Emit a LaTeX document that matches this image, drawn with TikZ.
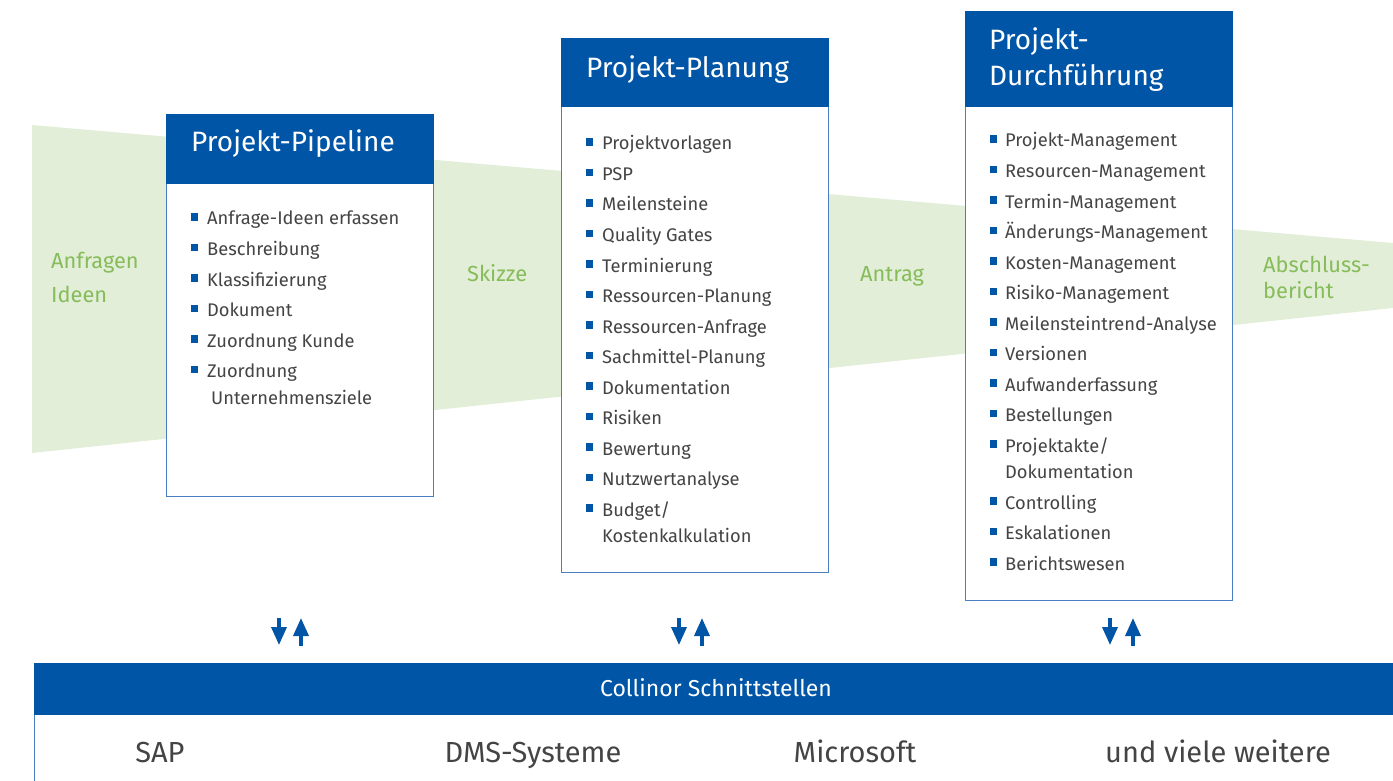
\documentclass[tikz,border=0pt]{standalone}
\usepackage{fontspec}
\setmainfont{Fira Sans}
\usetikzlibrary{arrows.meta}
\definecolor{hblue}{HTML}{0055A6}
\definecolor{lblue}{HTML}{4A7EC2}
\definecolor{band}{HTML}{E2EED8}
\definecolor{gtext}{HTML}{86BC5A}
\definecolor{itext}{HTML}{444444}
\tikzset{
  header/.style={fill=hblue, draw=hblue, inner sep=0pt},
  body/.style={draw=lblue, line width=0.9pt, fill=white, inner sep=0pt},
  htext/.style={anchor=base west, text=white, font=\fontsize{28}{36}\selectfont, inner sep=0pt, align=left},
  item/.style={anchor=base west, text=itext, font=\fontsize{18.3}{27}\selectfont, inner sep=0pt, align=left},
  bul/.style={fill=hblue, minimum size=7.5pt, inner sep=0pt},
  glabel/.style={anchor=base west, text=gtext, font=\fontsize{21.8}{33}\selectfont, inner sep=0pt, align=left},
  flow/.style={draw=hblue, line width=3.5pt, -{Triangle[length=18pt,width=15pt]}},
  btext/.style={anchor=base, text=itext, font=\fontsize{29}{32}\selectfont, inner sep=0pt}
}
\begin{document}
\begin{tikzpicture}[x=1pt,y=-1pt]
\useasboundingbox (0,0) rectangle (1393,781);
% band
\fill[band] (32,125) -- (1393,243) -- (1393,308) -- (32,453) -- cycle;
% green labels
\node[glabel] (l1) at (51,268) {Anfragen};
\node[glabel] (l1b) at (51,302) {Ideen};
\node[glabel] (l2) at (467,281) {Skizze};
\node[glabel] (l3) at (860,281) {Antrag};
\node[glabel] (l4) at (1263,272) {Abschluss-};
\node[glabel] (l4b) at (1263,298) {bericht};
% boxes
\draw[body] (166,183) rectangle (433,496);
\fill[header] (166,114) rectangle (433,183);
\draw[body] (561,106) rectangle (828,572);
\fill[header] (561,38) rectangle (828,106);
\draw[body] (965,106) rectangle (1232,600);
\fill[header] (965,11) rectangle (1232,106);
\node[htext] (h1) at (191,152) {Projekt-Pipeline};
\node[htext] (h2) at (586,78) {Projekt-Planung};
\node[htext] (h3) at (989,50) {Projekt-};
\node[htext] (h3b) at (989,86) {Durchführung};
% box 1 items
\foreach \t/\y in {Anfrage-Ideen erfassen/225, Beschreibung/255.5, Klassifizierung/286, Dokument/316.5, Zuordnung Kunde/347, Zuordnung/377.5}{
  \node[bul] at (194.5,\y-8) {};
  \node[item] at (207,\y) {\t};
}
\node[item] (u1) at (211,404) {Unternehmensziele};
% box 2 items
\foreach \t/\y in {Projektvorlagen/150, PSP/180.5, Meilensteine/211, Quality Gates/241.5, Terminierung/272, Ressourcen-Planung/302.5, Ressourcen-Anfrage/333, Sachmittel-Planung/363.5, Dokumentation/394, Risiken/424.5, Bewertung/455, Nutzwertanalyse/485.5, {Budget/}/516}{
  \node[bul] at (589.5,\y-8) {};
  \node[item] at (602,\y) {\t};
}
\node[item] (u2) at (602,542) {Kostenkalkulation};
% box 3 items
\foreach \t/\y in {Projekt-Management/147, Resourcen-Management/177.5, Termin-Management/208, Änderungs-Management/238.5, Kosten-Management/269, Risiko-Management/299.5, Meilensteintrend-Analyse/330, Versionen/360.5, Aufwanderfassung/391, Bestellungen/421.5, {Projektakte/}/452, Controlling/509, Eskalationen/539.5, Berichtswesen/570}{
  \node[bul] at (993.5,\y-8) {};
  \node[item] at (1005,\y) {\t};
}
\node[item] (u3) at (1005,478) {Dokumentation};
% arrows
\foreach \n/\x in {a/279, b/679, c/1110}{
  \coordinate (\n top) at (\x,618);
  \coordinate (\n bot) at (\x,645);
  \draw[flow] (\n top) -- (\n bot);
}
\foreach \n/\x in {d/301, e/702, f/1133}{
  \coordinate (\n top) at (\x,618);
  \coordinate (\n bot) at (\x,646);
  \draw[flow] (\n bot) -- (\n top);
}
% bottom box
\draw[body] (34,714) rectangle (1400,790);
\fill[header] (34,663) rectangle (1400,714);
\node[anchor=base, text=white, font=\fontsize{23}{26}\selectfont, inner sep=0pt] (ct) at (716,696) {Collinor Schnittstellen};
\node[btext] (s1) at (160,762) {SAP};
\node[btext] (s2) at (533,762) {DMS-Systeme};
\node[btext] (s3) at (855,762) {Microsoft};
\node[btext] (s4) at (1218,762) {und viele weitere};
\end{tikzpicture}
\end{document}
